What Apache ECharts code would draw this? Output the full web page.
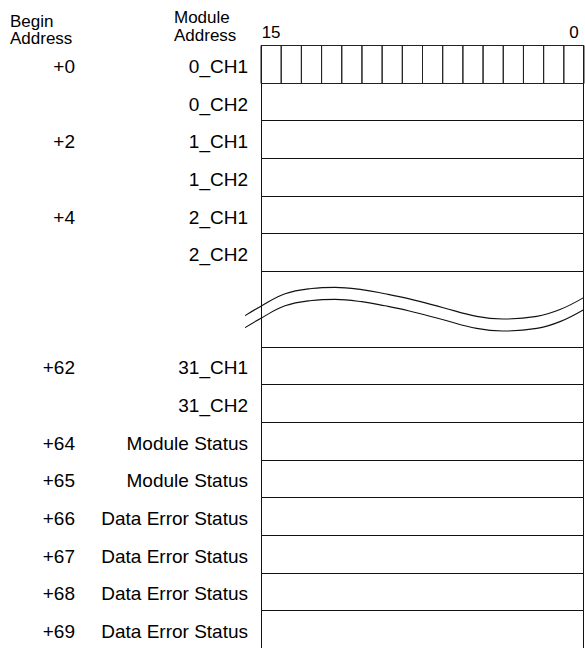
<!DOCTYPE html>
<html>
<head>
<meta charset="utf-8">
<script src="https://cdn.jsdelivr.net/npm/echarts@6/dist/echarts.min.js"></script>
<style>
html,body{margin:0;padding:0;background:#fff;}
#chart{width:585px;height:648px;}
</style>
</head>
<body>
<div id="chart"></div>
<script>
// ---- data ----
const beginAddress = ['+0', '', '+2', '', '+4', '', '', '+62', '', '+64', '+65', '+66', '+67', '+68', '+69'];
const moduleAddress = ['0_CH1', '0_CH2', '1_CH1', '1_CH2', '2_CH1', '2_CH2', '', '31_CH1', '31_CH2',
  'Module Status', 'Module Status', 'Data Error Status', 'Data Error Status', 'Data Error Status', 'Data Error Status'];
const rowSpans = [1, 1, 1, 1, 1, 1, 2, 1, 1, 1, 1, 1, 1, 1, 1];
const bits = [15, 14, 13, 12, 11, 10, 9, 8, 7, 6, 5, 4, 3, 2, 1, 0];
const bitTickLabels = ['15', '0'];
const headerBegin = ['Begin', 'Address'];
const headerModule = ['Module', 'Address'];
// break-mark wave (x in bit cells from left edge, y in row units from top)
const waveX = [-0.79, 0, 1.19, 2.51, 3.67, 4.99, 6.14, 7.30, 9.03, 10.68, 11.97, 13.66, 14.81, 15.96];
const waveUpperY = [7.18, 6.93, 6.60, 6.46, 6.43, 6.49, 6.60, 6.73, 6.97, 7.20, 7.27, 7.20, 7.02, 6.71];
const waveLowerY = [7.50, 7.25, 6.92, 6.78, 6.75, 6.81, 6.92, 7.05, 7.29, 7.52, 7.59, 7.52, 7.34, 7.03];

// ---- build ----
const FONT = "'Liberation Sans', Arial, Helvetica, sans-serif";
const totalRows = rowSpans.reduce((a, b) => a + b, 0);
const nBits = bits.length;
let acc = 0;
const rowData = rowSpans.map((s, i) => { const r = [acc, s, i]; acc += s; return r; });
const bitData = bits.map((b, i) => [i, b]);

const cellW = 323 / nBits;
const chart = echarts.init(document.getElementById('chart'), null, { renderer: 'svg' });

function headerTexts(lines, x, ys) {
  return lines.map((t, i) => ({
    type: 'text',
    style: { text: t, x: x, y: ys[i], font: '17px ' + FONT, verticalAlign: 'middle', align: 'left', fill: '#000' }
  }));
}

const option = {
  animation: false,
  backgroundColor: '#fff',
  grid: { left: 261 - cellW, top: 45, width: 323 + cellW, height: 604 },
  xAxis: { type: 'value', min: -1, max: nBits, show: false },
  yAxis: { type: 'value', min: 0, max: totalRows, inverse: true, show: false },
  graphic: headerTexts(headerBegin, 10, [21, 38.5]).concat(headerTexts(headerModule, 174, [17, 35])),
  series: [
    {
      type: 'custom',
      coordinateSystem: 'cartesian2d',
      data: rowData,
      renderItem: function (params, api) {
        const start = api.value(0), span = api.value(1), idx = api.value(2);
        const p0 = api.coord([0, start]);
        const p1 = api.coord([nBits, start + span]);
        const x0 = Math.round(p0[0]) + 0.5, y0 = Math.round(p0[1]) + 0.5;
        const x1 = Math.round(p1[0]) - 0.5, y1 = Math.round(p1[1]) + 0.5;
        const cy = (p0[1] + p1[1]) / 2 + 2.5;
        return {
          type: 'group',
          children: [
            { type: 'rect', shape: { x: x0, y: y0, width: x1 - x0, height: y1 - y0 },
              style: { fill: 'none', stroke: '#111', lineWidth: 1 } },
            { type: 'text', style: { text: beginAddress[idx], x: 75, y: cy, align: 'right', verticalAlign: 'middle', font: '19px ' + FONT, fill: '#000' } },
            { type: 'text', style: { text: moduleAddress[idx], x: 248, y: cy, align: 'right', verticalAlign: 'middle', font: '19px ' + FONT, fill: '#000' } }
          ]
        };
      }
    },
    {
      type: 'custom',
      coordinateSystem: 'cartesian2d',
      data: bitData,
      renderItem: function (params, api) {
        const i = api.value(0), b = api.value(1);
        const p0 = api.coord([i, 0]);
        const p1 = api.coord([i + 1, 1]);
        const children = [
          { type: 'rect', shape: { x: p0[0], y: Math.round(p0[1]) + 0.5, width: p1[0] - p0[0], height: Math.round(p1[1]) - Math.round(p0[1]) },
            style: { fill: 'none', stroke: '#222', lineWidth: 1 } }
        ];
        const lbl = String(b);
        if (bitTickLabels.indexOf(lbl) >= 0) {
          children.push({ type: 'text', style: { text: lbl, x: (p0[0] + p1[0]) / 2, y: p0[1] - 13, align: 'center', verticalAlign: 'middle', font: '17px ' + FONT, fill: '#000' } });
        }
        return { type: 'group', children: children };
      }
    },
    {
      type: 'line',
      data: waveX.map((x, i) => [x, waveUpperY[i]]),
      smooth: 0.4,
      symbol: 'none',
      clip: false,
      lineStyle: { color: '#111', width: 1.1 }
    },
    {
      type: 'line',
      data: waveX.map((x, i) => [x, waveLowerY[i]]),
      smooth: 0.4,
      symbol: 'none',
      clip: false,
      lineStyle: { color: '#111', width: 1.1 }
    }
  ]
};
chart.setOption(option);
</script>
</body>
</html>
